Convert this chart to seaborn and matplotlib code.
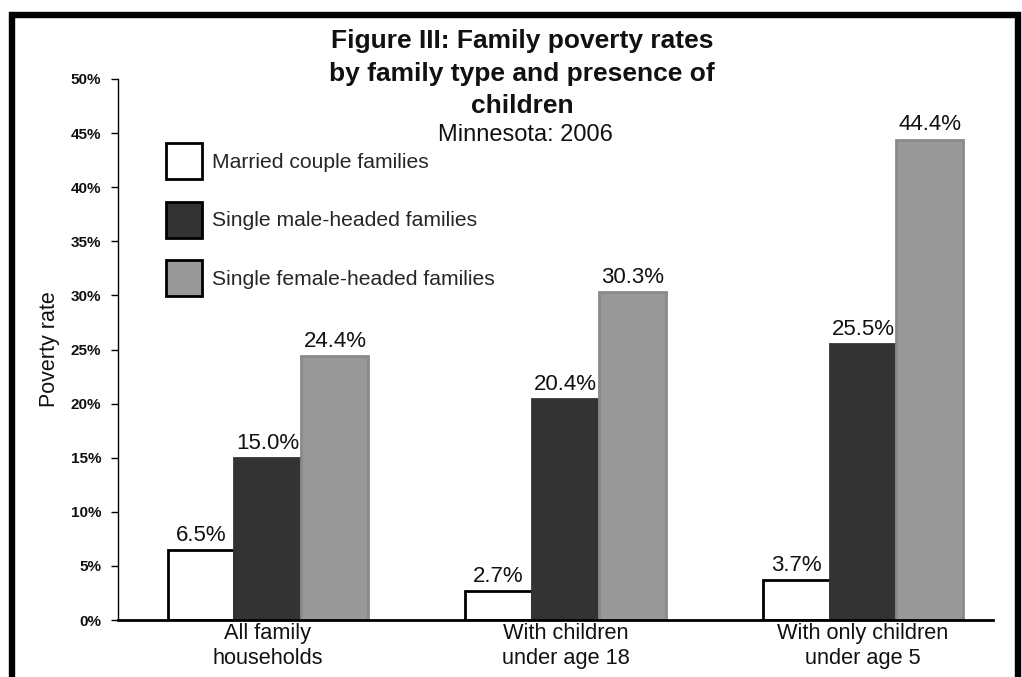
import matplotlib
matplotlib.use("Agg")
import matplotlib.pyplot as plt
import seaborn as sns
import pandas as pd
from matplotlib.patches import Patch, Rectangle

categories = ["All family\nhouseholds", "With children\nunder age 18", "With only children\nunder age 5"]
series_names = ["Married couple families", "Single male-headed families", "Single female-headed families"]
married = [6.5, 2.7, 3.7]
single_male = [15.0, 20.4, 25.5]
single_female = [24.4, 30.3, 44.4]
yticks = [0, 5, 10, 15, 20, 25, 30, 35, 40, 45, 50]

fills = ["#ffffff", "#333333", "#999999"]
edges = ["#000000", "#333333", "#8a8a8a"]

rows = []
for name, vals in zip(series_names, [married, single_male, single_female]):
    for c, v in zip(categories, vals):
        rows.append({"cat": c, "series": name, "value": v})
df = pd.DataFrame(rows)

sns.set_theme(style="white")
plt.rcParams['font.family'] = ['Liberation Sans', 'DejaVu Sans']

fig = plt.figure(figsize=(10.22, 6.77), dpi=100)
ax = fig.add_axes([118/1022, 1-620/677, (993-118)/1022, (620-79)/677])

sns.barplot(data=df, x="cat", y="value", hue="series", order=categories,
            hue_order=series_names, palette=fills, width=0.675, gap=0,
            ax=ax, legend=False, errorbar=None, saturation=1)

for cont, ec, vals in zip(ax.containers, edges, [married, single_male, single_female]):
    for p in cont.patches:
        p.set_edgecolor(ec)
        p.set_linewidth(2)
    ax.bar_label(cont, labels=[f"{v:.1f}%" for v in vals], padding=3, fontsize=16, color="#111111")

ax.set_xlim(-0.504, 2.437)
ax.set_ylim(0, 50)
ax.set_yticks(yticks)
ax.set_yticklabels([f"{t}%" for t in yticks], fontsize=11, fontweight="bold", color="#111111")
ax.tick_params(axis="y", which="both", left=True, length=5, width=1, color="black", pad=7)
ax.tick_params(axis="x", bottom=False, labelsize=15.7, pad=-4)
for lab in ax.get_xticklabels():
    lab.set_color("#111111")
    lab.set_linespacing(1.25)
ax.set_xlabel("")
ax.set_ylabel("Poverty rate", fontsize=15.5, color="#111111")
ax.yaxis.set_label_coords(-0.066, 0.5)

for s in ["top", "right"]:
    ax.spines[s].set_visible(False)
ax.spines["left"].set_color("black")
ax.spines["left"].set_linewidth(1)
ax.spines["bottom"].set_color("black")
ax.spines["bottom"].set_linewidth(2)
ax.patch.set_alpha(0)

handles = [Patch(facecolor=f, edgecolor="black", linewidth=2) for f in fills]
ax.legend(handles, series_names, loc="upper left", bbox_to_anchor=(166/1022, 1-143/677),
          bbox_transform=fig.transFigure, frameon=False, fontsize=15.2,
          handlelength=1.71, handleheight=2.26, labelspacing=1.06, handletextpad=0.47,
          borderpad=0, borderaxespad=0)

title_lines = ["Figure III: Family poverty rates", "by family type and presence of", "children"]
for i, line in enumerate(title_lines):
    fig.text(522/1022, 1-(48+32.5*i)/677, line, ha="center", va="baseline",
             fontsize=19, fontweight="bold", color="#111111")
fig.text(525/1022, 1-141/677, "Minnesota: 2006", ha="center", va="baseline",
         fontsize=17, color="#111111")

frame = Rectangle((11.5/1022, -0.2), (1018-11.5)/1022, 1.2 - 14.5/677,
                  transform=fig.transFigure, fill=False, edgecolor="black", linewidth=4.6)
fig.patches.append(frame)

fig.savefig("out.png", dpi=100)
